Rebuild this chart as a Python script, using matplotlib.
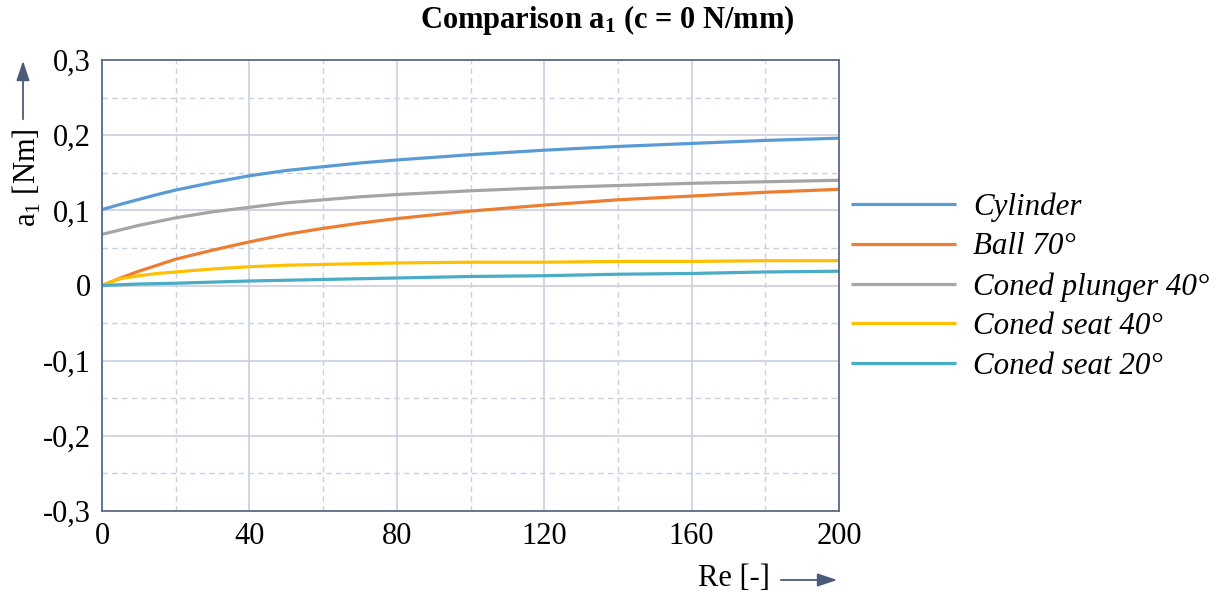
import matplotlib
matplotlib.use("Agg")
import matplotlib.pyplot as plt
from matplotlib.patches import FancyArrowPatch
from matplotlib.ticker import MultipleLocator, FixedFormatter, FixedLocator

# values
re = [0, 2.5, 5, 10, 15, 20, 30, 40, 50, 60, 70, 80, 100, 120, 140, 160, 180, 200]
cylinder = [0.101, 0.1045, 0.108, 0.1145, 0.121, 0.127, 0.137, 0.146, 0.153, 0.158, 0.163, 0.167,
            0.174, 0.180, 0.185, 0.189, 0.193, 0.196]
ball_70 = [0.000, 0.005, 0.010, 0.019, 0.027, 0.035, 0.047, 0.058, 0.068, 0.076, 0.083, 0.089,
           0.099, 0.107, 0.114, 0.119, 0.124, 0.128]
coned_plunger_40 = [0.068, 0.071, 0.074, 0.080, 0.085, 0.090, 0.098, 0.104, 0.110, 0.114, 0.118, 0.121,
                    0.126, 0.130, 0.133, 0.136, 0.138, 0.140]
coned_seat_40 = [0.000, 0.005, 0.009, 0.013, 0.016, 0.018, 0.022, 0.025, 0.027, 0.028, 0.029, 0.030,
                 0.031, 0.031, 0.032, 0.032, 0.033, 0.033]
coned_seat_20 = [0.000, 0.0005, 0.001, 0.002, 0.0025, 0.003, 0.0045, 0.006, 0.007, 0.008, 0.009, 0.010,
                 0.012, 0.013, 0.015, 0.016, 0.018, 0.019]

series = [
    ("Cylinder", cylinder, "#5b9bd5"),
    ("Ball 70°", ball_70, "#ed7d31"),
    ("Coned plunger 40°", coned_plunger_40, "#a5a5a5"),
    ("Coned seat 40°", coned_seat_40, "#ffc000"),
    ("Coned seat 20°", coned_seat_20, "#4bacc6"),
]

x_ticks = [0, 40, 80, 120, 160, 200]
y_ticks = [-0.3, -0.2, -0.1, 0.0, 0.1, 0.2, 0.3]
y_tick_labels = ["-0,3", "-0,2", "-0,1", "0", "0,1", "0,2", "0,3"]

plt.rcParams["font.family"] = ["Liberation Serif", "DejaVu Serif"]
plt.rcParams["mathtext.fontset"] = "custom"
plt.rcParams["mathtext.rm"] = "Liberation Serif"
plt.rcParams["mathtext.bf"] = "Liberation Serif:bold"

W, H = 1215, 598
fig = plt.figure(figsize=(W / 100, H / 100), dpi=100)
ax = fig.add_axes([102 / W, 1 - 511 / H, (839 - 102) / W, (511 - 60) / H])

spine_col = "#5a6a8a"
grid_col = "#c9d0de"

for name, vals, col in series:
    ax.plot(re, vals, color=col, lw=2.3, label=name, solid_capstyle="butt")

ax.set_xlim(0, 200)
ax.set_ylim(-0.3, 0.3)
ax.xaxis.set_major_locator(FixedLocator(x_ticks))
ax.xaxis.set_minor_locator(MultipleLocator(20))
ax.yaxis.set_major_locator(FixedLocator(y_ticks))
ax.yaxis.set_major_formatter(FixedFormatter(y_tick_labels))
ax.yaxis.set_minor_locator(MultipleLocator(0.05))
ax.grid(which="major", color=grid_col, lw=1.2, ls="-")
ax.grid(which="minor", color=grid_col, lw=1.0, ls=(0, (4, 3)))
ax.set_axisbelow(True)
ax.tick_params(which="both", length=0, labelsize=22, pad=8)
for s in ax.spines.values():
    s.set_color(spine_col)
    s.set_linewidth(1.3)

fig.text(607 / W, 1 - 20 / H, r"Comparison $\mathbf{a_1}$ (c = 0 N/mm)", ha="center", va="center",
         fontsize=22, fontweight="bold")

# axis labels with arrows
fig.text(27 / W, 1 - 178 / H, r"a$_1$ [Nm]", rotation=90, ha="center", va="center", fontsize=22)
fig.text(734 / W, 1 - 578 / H, "Re [-]", ha="center", va="center", fontsize=22)
arrow = dict(arrowstyle="-|>,head_length=0.6,head_width=0.2", color="#4a5a78", lw=1.3)
fig.add_artist(FancyArrowPatch((23 / W, 1 - 122 / H), (23 / W, 1 - 58 / H),
                               transform=fig.transFigure, mutation_scale=20, **arrow))
fig.add_artist(FancyArrowPatch((778 / W, 1 - 580 / H), (840 / W, 1 - 580 / H),
                               transform=fig.transFigure, mutation_scale=20, **arrow))

fig.legend(loc="center left", bbox_to_anchor=(851 / W, 1 - 286.5 / H), frameon=False,
           prop={"style": "italic", "size": 22.3}, handlelength=3.4, handletextpad=0.55,
           labelspacing=0.34, borderaxespad=0, borderpad=0)

fig.savefig("out.png", dpi=100)
